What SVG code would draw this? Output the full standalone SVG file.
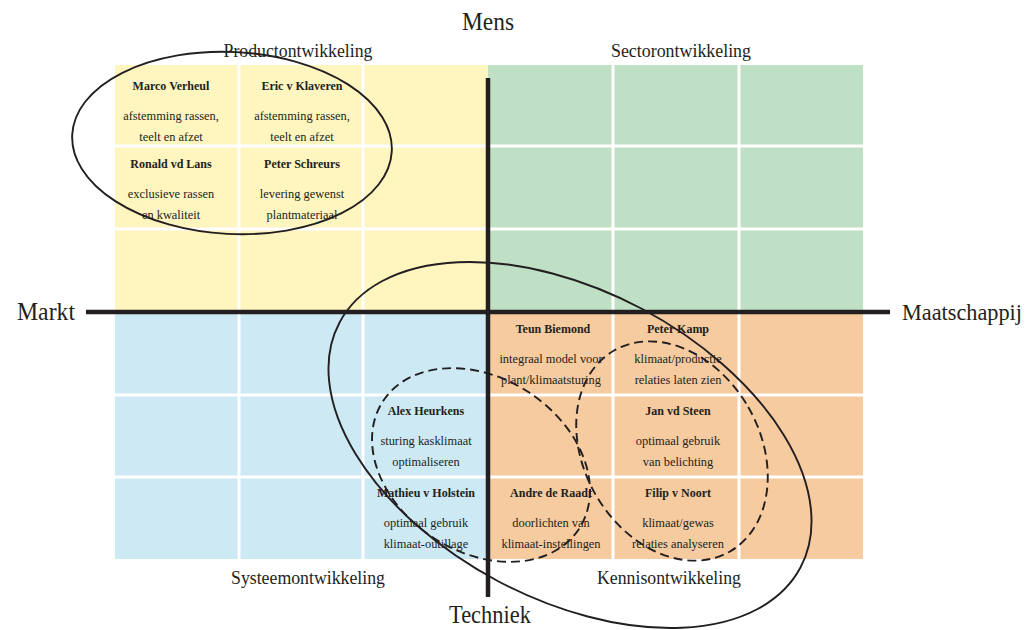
<svg xmlns="http://www.w3.org/2000/svg" width="1030" height="630" viewBox="0 0 1030 630">
<style>
  text { font-family: "Liberation Serif", "Times New Roman", serif; fill: #231f20; text-anchor: middle; }
  .nm { font-size: 12px; font-weight: bold; }
  .ds { font-size: 12.4px; }
  .qt { font-size: 18px; }
  .ax { font-size: 25px; }
  .grid { stroke: #ffffff; stroke-width: 3; }
  .axis { stroke: #231f20; stroke-width: 4.5; }
  .ell { fill: none; stroke: #231f20; stroke-width: 1.9; }
  .dash { stroke-dasharray: 9 5; }
</style>
<rect width="1030" height="630" fill="#ffffff"/>
<g id="quadrants">
  <rect x="115" y="65" width="373" height="247" fill="#fef5bf"/>
  <rect x="488" y="65" width="375" height="247" fill="#bfe0c4"/>
  <rect x="115" y="312" width="373" height="247" fill="#cce9f4"/>
  <rect x="488" y="312" width="375" height="247" fill="#f5cb9f"/>
  <g class="grid">
    <line x1="239" y1="65" x2="239" y2="559"/>
    <line x1="363" y1="65" x2="363" y2="559"/>
    <line x1="613" y1="65" x2="613" y2="559"/>
    <line x1="739" y1="65" x2="739" y2="559"/>
    <line x1="115" y1="146" x2="863" y2="146"/>
    <line x1="115" y1="229" x2="863" y2="229"/>
    <line x1="115" y1="395" x2="863" y2="395"/>
    <line x1="115" y1="477" x2="863" y2="477"/>
  </g>
</g>
<g id="axes">
  <line class="axis" x1="488" y1="78" x2="488" y2="597"/>
  <line class="axis" x1="86" y1="312" x2="890" y2="312"/>
  <text class="ax" x="488" y="30" textLength="52" lengthAdjust="spacingAndGlyphs">Mens</text>
  <text class="ax" x="490" y="623" textLength="82" lengthAdjust="spacingAndGlyphs">Techniek</text>
  <text class="ax" x="46" y="320" textLength="58" lengthAdjust="spacingAndGlyphs">Markt</text>
  <text class="ax" x="962" y="320" style="font-size:23px" textLength="120" lengthAdjust="spacingAndGlyphs">Maatschappij</text>
</g>
<g id="quadrant-titles">
  <text class="qt" x="298" y="57" textLength="149" lengthAdjust="spacingAndGlyphs">Productontwikkeling</text>
  <text class="qt" x="681" y="57" textLength="140" lengthAdjust="spacingAndGlyphs">Sectorontwikkeling</text>
  <text class="qt" x="308" y="584" textLength="154" lengthAdjust="spacingAndGlyphs">Systeemontwikkeling</text>
  <text class="qt" x="669" y="584" textLength="144" lengthAdjust="spacingAndGlyphs">Kennisontwikkeling</text>
</g>
<g id="node-marco">
  <text class="nm" x="171" y="90">Marco Verheul</text>
  <text class="ds" x="171" y="120">afstemming rassen,</text>
  <text class="ds" x="171" y="141">teelt en afzet</text>
</g>
<g id="node-eric">
  <text class="nm" x="302" y="90">Eric v Klaveren</text>
  <text class="ds" x="302" y="120">afstemming rassen,</text>
  <text class="ds" x="302" y="141">teelt en afzet</text>
</g>
<g id="node-ronald">
  <text class="nm" x="171" y="168">Ronald vd Lans</text>
  <text class="ds" x="171" y="198">exclusieve rassen</text>
  <text class="ds" x="171" y="219">en kwaliteit</text>
</g>
<g id="node-peter-s">
  <text class="nm" x="302" y="168">Peter Schreurs</text>
  <text class="ds" x="302" y="198">levering gewenst</text>
  <text class="ds" x="302" y="219">plantmateriaal</text>
</g>
<g id="node-teun">
  <text class="nm" x="553" y="333">Teun Biemond</text>
  <text class="ds" x="551" y="363">integraal model voor</text>
  <text class="ds" x="551" y="384">plant/klimaatsturing</text>
</g>
<g id="node-peter-k">
  <text class="nm" x="678" y="333">Peter Kamp</text>
  <text class="ds" x="678" y="363">klimaat/productie</text>
  <text class="ds" x="678" y="384">relaties laten zien</text>
</g>
<g id="node-jan">
  <text class="nm" x="678" y="415">Jan vd Steen</text>
  <text class="ds" x="678" y="445">optimaal gebruik</text>
  <text class="ds" x="678" y="466">van belichting</text>
</g>
<g id="node-alex">
  <text class="nm" x="426" y="415">Alex Heurkens</text>
  <text class="ds" x="426" y="445">sturing kasklimaat</text>
  <text class="ds" x="426" y="466">optimaliseren</text>
</g>
<g id="node-mathieu">
  <text class="nm" x="426" y="497">Mathieu v Holstein</text>
  <text class="ds" x="426" y="527">optimaal gebruik</text>
  <text class="ds" x="426" y="548">klimaat-outillage</text>
</g>
<g id="node-andre">
  <text class="nm" x="551" y="497">Andre de Raadt</text>
  <text class="ds" x="551" y="527">doorlichten van</text>
  <text class="ds" x="551" y="548">klimaat-instellingen</text>
</g>
<g id="node-filip">
  <text class="nm" x="678" y="497">Filip v Noort</text>
  <text class="ds" x="678" y="527">klimaat/gewas</text>
  <text class="ds" x="678" y="548">relaties analyseren</text>
</g>
<g id="connectors">
  <ellipse class="ell" cx="232" cy="143" rx="160" ry="91" transform="rotate(3 232 143)"/>
  <ellipse class="ell" cx="570" cy="445" rx="261" ry="154" transform="rotate(28 570 445)"/>
  <ellipse class="ell dash" cx="481" cy="465" rx="117" ry="87" transform="rotate(33 481 465)"/>
  <ellipse class="ell dash" cx="672" cy="451" rx="88" ry="116" transform="rotate(-30 672 451)"/>
</g>
</svg>
